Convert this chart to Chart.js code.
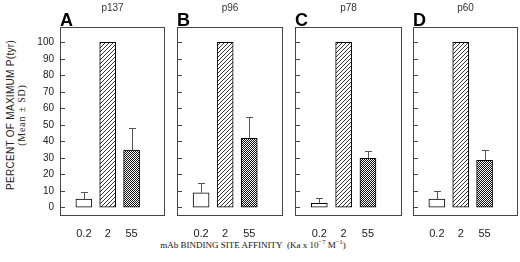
<!DOCTYPE html>
<html><head><meta charset="utf-8">
<script src="https://cdn.jsdelivr.net/npm/chart.js@4/dist/chart.umd.min.js"></script>
<style>
html,body{margin:0;padding:0;background:#fff;width:520px;height:262px;overflow:hidden;}
#wrap{position:relative;width:520px;height:262px;}
canvas{position:absolute;top:0;}
.lbl{position:absolute;white-space:nowrap;color:#222;line-height:1;}
.letter{font:bold 18px "Liberation Sans",Arial,sans-serif;color:#000;}
.ptitle{font:10px "Liberation Sans",Arial,sans-serif;color:#333;transform:translateX(-50%);}
#xtitle{font:9px "Liberation Serif","Times New Roman",serif;left:253px;top:240px;transform:translateX(-50%);color:#111;}
#xtitle sup{font-size:6.5px;vertical-align:4px;line-height:0;}
#ytitle{left:16px;top:115px;transform:translate(-50%,-50%) rotate(-90deg);text-align:center;line-height:11px;}
#ytitle .l1{font:10px "Liberation Sans",Arial,sans-serif;letter-spacing:0.3px;}
#ytitle .l2{font:10px "Liberation Serif","Times New Roman",serif;letter-spacing:0.8px;}
</style></head><body><div id="wrap">
<div id="ytitle" class="lbl"><div class="l1">PERCENT OF MAXIMUM P(tyr)</div><div class="l2">(Mean ± SD)</div></div>
<div id="xtitle" class="lbl">mAb BINDING SITE AFFINITY&nbsp;&nbsp;(Ka x 10<sup>−7</sup> M<sup>−1</sup>)</div>
</div>
<script>
// ---- data ----
const categories = ['0.2', '2', '55'];
const panelNames = ['p137', 'p96', 'p78', 'p60'];
const panelLetters = ['A', 'B', 'C', 'D'];
const meanP137 = [5, 100, 34.7];
const sdP137 = [4, 0, 13.5];
const meanP96 = [8.8, 100, 41.8];
const sdP96 = [6.1, 0, 13.1];
const meanP78 = [2.4, 100, 29.7];
const sdP78 = [3.1, 0, 4.6];
const meanP60 = [5, 100, 28.5];
const sdP60 = [5.1, 0, 6];
const yTicks = [0, 10, 20, 30, 40, 50, 60, 70, 80, 90, 100];

// ---- layout ----
const means = [meanP137, meanP96, meanP78, meanP60];
const sds = [sdP137, sdP96, sdP78, sdP60];
const areaLeft = [60, 177, 295, 413];
const areaRight = [165, 283, 402, 518];
const areaTop = 27, H = 262;

function hatchPattern() {
  const c = document.createElement('canvas'); c.width = 4; c.height = 4;
  const g = c.getContext('2d');
  g.fillStyle = '#fff'; g.fillRect(0, 0, 4, 4);
  g.fillStyle = '#333';
  for (let i = 0; i < 4; i++) g.fillRect(i, 3 - i, 1, 1);
  return g.createPattern(c, 'repeat');
}
function checkPattern() {
  const c = document.createElement('canvas'); c.width = 2; c.height = 2;
  const g = c.getContext('2d');
  g.fillStyle = '#fff'; g.fillRect(0, 0, 2, 2);
  g.fillStyle = '#111'; g.fillRect(0, 0, 1, 1); g.fillRect(1, 1, 1, 1);
  return g.createPattern(c, 'repeat');
}

const framePlugin = {
  id: 'frame',
  afterDraw(chart) {
    const a = chart.chartArea, ctx = chart.ctx;
    ctx.save();
    ctx.strokeStyle = '#444'; ctx.lineWidth = 1;
    ctx.strokeRect(Math.round(a.left) + 0.5, Math.round(a.top) + 0.5,
      Math.round(a.right - a.left) - 1, Math.round(a.bottom - a.top) - 1);
    const ys = chart.scales.y;
    ctx.beginPath();
    yTicks.forEach(v => {
      const py = Math.round(ys.getPixelForValue(v)) + 0.5;
      ctx.moveTo(a.left, py); ctx.lineTo(a.left + 5, py);
    });
    ctx.stroke();
    ctx.restore();
  }
};
const errPlugin = {
  id: 'errbars',
  afterDatasetsDraw(chart, args, opts) {
    const ctx = chart.ctx, meta = chart.getDatasetMeta(0), ys = chart.scales.y;
    const m = opts.mean, s = opts.sd;
    ctx.save();
    ctx.strokeStyle = '#555'; ctx.lineWidth = 1;
    meta.data.forEach((el, i) => {
      if (!s[i]) return;
      const x = Math.round(el.x) + 0.5;
      const yTop = Math.round(ys.getPixelForValue(m[i] + s[i])) + 0.5;
      ctx.beginPath();
      ctx.moveTo(x, el.y); ctx.lineTo(x, yTop);
      ctx.moveTo(x - 3.5, yTop); ctx.lineTo(x + 3.5, yTop);
      ctx.stroke();
    });
    ctx.restore();
  }
};

const wrap = document.getElementById('wrap');
const hatch = hatchPattern(), check = checkPattern();

panelNames.forEach((name, p) => {
  const yw = p === 0 ? 60 : 2;
  const cw = yw + (areaRight[p] - areaLeft[p]) + 2;
  const cv = document.createElement('canvas');
  cv.width = cw; cv.height = H;
  cv.style.left = (areaLeft[p] - yw) + 'px';
  cv.style.width = cw + 'px'; cv.style.height = H + 'px';
  wrap.appendChild(cv);

  const letter = document.createElement('div');
  letter.className = 'lbl letter'; letter.textContent = panelLetters[p];
  letter.style.left = areaLeft[p] + 'px'; letter.style.top = '10px';
  wrap.appendChild(letter);
  const t = document.createElement('div');
  t.className = 'lbl ptitle'; t.textContent = name;
  t.style.left = ((areaLeft[p] + areaRight[p]) / 2) + 'px'; t.style.top = '2px';
  wrap.appendChild(t);

  new Chart(cv, {
    type: 'bar',
    data: {
      datasets: [{
        data: categories.map((c, i) => ({ x: i + 1, y: means[p][i] })),
        backgroundColor: ['#fff', hatch, check],
        borderColor: '#000', borderWidth: 1, borderSkipped: false,
        barThickness: 16
      }]
    },
    options: {
      responsive: false, animation: false, devicePixelRatio: 1,
      layout: { padding: { top: areaTop, left: 0, right: 2, bottom: 18 } },
      plugins: { legend: { display: false }, tooltip: { enabled: false },
        errbars: { mean: means[p], sd: sds[p] } },
      scales: {
        x: {
          type: 'linear', min: 0, max: 4.4, offset: false,
          grid: { display: false, drawTicks: false, offset: false }, border: { display: false },
          afterBuildTicks: s => { s.ticks = categories.map((c, i) => ({ value: i + 1 })); },
          afterFit: s => { s.height = 28; },
          ticks: { padding: 11, color: '#222', font: { size: 11, family: '"Liberation Sans", Arial, sans-serif' },
            maxRotation: 0, autoSkip: false,
            callback: (v, i) => categories[i] }
        },
        y: {
          min: -5.3, max: 109.3,
          grid: { display: false, drawTicks: false }, border: { display: false },
          afterBuildTicks: s => { s.ticks = yTicks.map(v => ({ value: v })); },
          afterFit: s => { s.width = yw; },
          ticks: { display: p === 0, padding: 6, color: '#222',
            font: { size: 10, family: '"Liberation Sans", Arial, sans-serif' } }
        }
      }
    },
    plugins: [framePlugin, errPlugin]
  });
});
</script></body></html>
